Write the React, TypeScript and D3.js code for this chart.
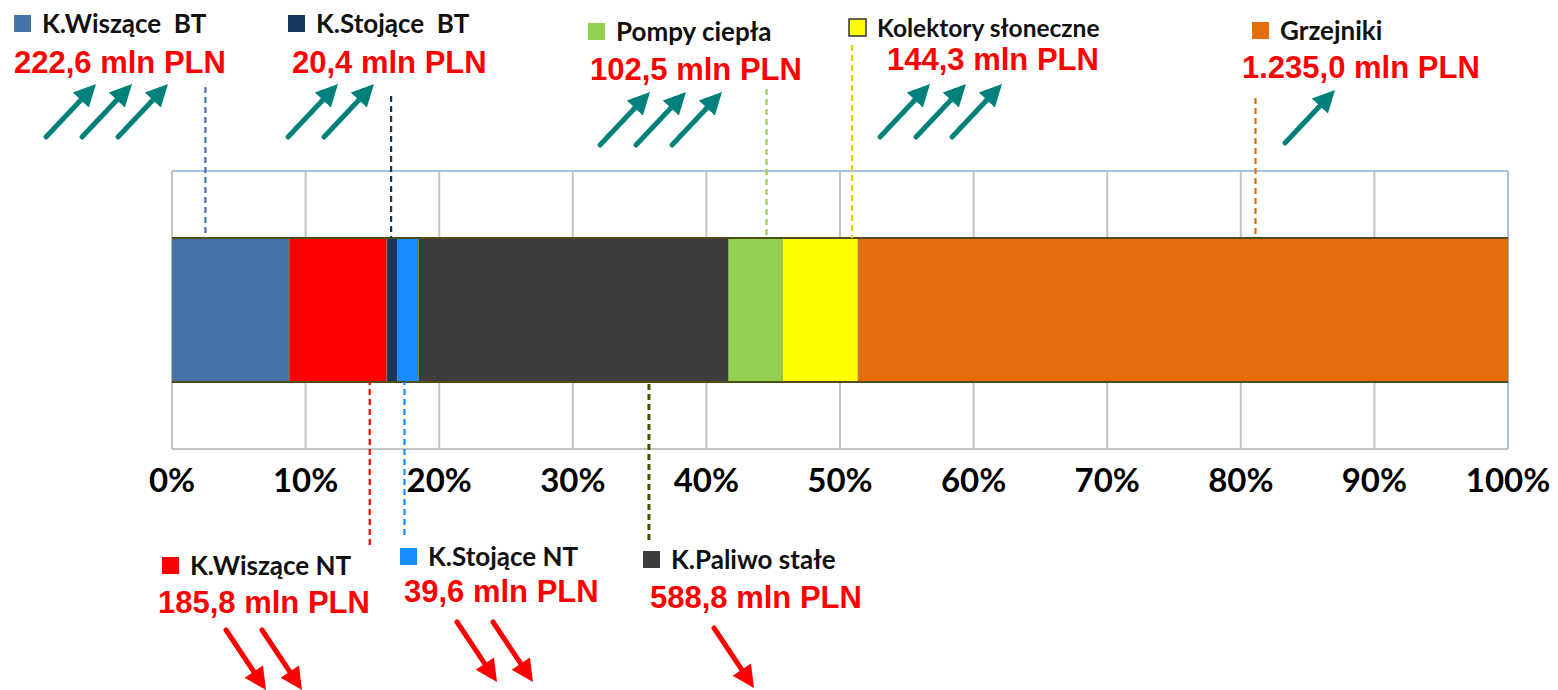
import React from "react";
import * as d3 from "d3";

// segments of the 100% bar, left to right
const categories = [
  "K.Wiszące  BT",
  "K.Wiszące NT",
  "K.Stojące  BT",
  "K.Stojące NT",
  "K.Paliwo stałe",
  "Pompy ciepła",
  "Kolektory słoneczne",
  "Grzejniki",
];
const values = [222.6, 185.8, 20.4, 39.6, 588.8, 102.5, 144.3, 1235.0];
const valueLabels = [
  "222,6 mln PLN",
  "185,8 mln PLN",
  "20,4 mln PLN",
  "39,6 mln PLN",
  "588,8 mln PLN",
  "102,5 mln PLN",
  "144,3 mln PLN",
  "1.235,0 mln PLN",
];
const trendArrows = [3, 2, 2, 2, 1, 3, 3, 1];
const trendUp = [true, false, true, false, false, true, true, true];
const tickLabels = ["0%", "10%", "20%", "30%", "40%", "50%", "60%", "70%", "80%", "90%", "100%"];

const colors = ["#4572a7", "#ff0000", "#17375e", "#168cff", "#3c3c3c", "#92d050", "#ffff00", "#e46c0a"];

const width = 1558;
const height = 690;
const plot = { left: 172, right: 1508, top: 171, bottom: 449 };
const bar = { top: 238, bottom: 382 };

// annotation placement: square (sx, sy), value text (vx, vy), first arrow tail (ax, ay),
// leader x in percent and its far end y
const notes = [
  { sx: 14, sy: 15, vx: 14, vy: 73, ax: 46, ay: 137, lead: 0.025, ly: 87, fs: 26 },
  { sx: 162, sy: 557, vx: 158, vy: 613, ax: 226, ay: 630, lead: 0.148, ly: 545, fs: 26 },
  { sx: 288, sy: 15, vx: 292, vy: 73, ax: 288, ay: 137, lead: 0.164, ly: 96, fs: 26 },
  { sx: 400, sy: 548, vx: 404, vy: 602, ax: 457, ay: 622, lead: 0.174, ly: 535, fs: 26 },
  { sx: 643, sy: 551, vx: 650, vy: 608, ax: 714, ay: 628, lead: 0.357, ly: 540, fs: 26 },
  { sx: 588, sy: 23, vx: 590, vy: 80, ax: 600, ay: 145, lead: 0.445, ly: 89, fs: 26 },
  { sx: 849, sy: 19, vx: 887, vy: 70, ax: 880, ay: 137, lead: 0.509, ly: 45, fs: 24.5 },
  { sx: 1252, sy: 22, vx: 1242, vy: 78, ax: 1285, ay: 143, lead: 0.811, ly: 98, fs: 26 },
];

const labelFont = "Lato, 'Open Sans', sans-serif";
const valueFont = "'Liberation Sans', Arial, sans-serif";

const Arrow = ({ x, y, up }: { x: number; y: number; up: boolean }) => {
  const dx = up ? 50 : 40;
  const dy = up ? -53 : 60;
  const x2 = x + dx;
  const y2 = y + dy;
  const len = Math.hypot(dx, dy);
  const ux = dx / len;
  const uy = dy / len;
  const headLen = 22;
  const headHalf = 11;
  const bx = x2 - ux * headLen;
  const by = y2 - uy * headLen;
  const color = up ? "#00807a" : "#ff0000";
  return (
    <g>
      <line x1={x} y1={y} x2={bx + ux * 2} y2={by + uy * 2} stroke={color} strokeWidth={5} strokeLinecap="round" />
      <path
        d={`M${x2},${y2}L${bx - uy * headHalf},${by + ux * headHalf}L${bx + uy * headHalf},${by - ux * headHalf}Z`}
        fill={color}
      />
    </g>
  );
};

const App = () => {
  const xScale = d3.scaleLinear().domain([0, 1]).range([plot.left, plot.right]);

  const row: Record<string, number> = {};
  categories.forEach((c, i) => (row[c] = values[i]));
  const series = d3.stack<Record<string, number>>().keys(categories).offset(d3.stackOffsetExpand)([row]);

  const ticks = d3.range(0, 11).map((d) => d / 10);

  return (
    <svg width={width} height={height} style={{ position: "absolute", left: 0, top: 0, background: "#fff" }}>
      {/* grid */}
      {ticks.map((t, i) => (
        <line
          key={i}
          x1={xScale(t)}
          x2={xScale(t)}
          y1={plot.top}
          y2={plot.bottom}
          stroke={i === 10 ? "#a9c1e0" : "#c3c3c3"}
          strokeWidth={2}
        />
      ))}
      <line x1={plot.left} x2={plot.right} y1={plot.top} y2={plot.top} stroke="#a9c1e0" strokeWidth={2} />
      <line x1={plot.left} x2={plot.right} y1={plot.bottom} y2={plot.bottom} stroke="#c3c3c3" strokeWidth={2} />

      {/* bar */}
      {series.map((s, i) => (
        <rect
          key={s.key}
          x={xScale(s[0][0])}
          width={xScale(s[0][1]) - xScale(s[0][0])}
          y={bar.top}
          height={bar.bottom - bar.top}
          fill={colors[i]}
          stroke="#8a8a60"
          strokeWidth={0.6}
        />
      ))}
      <line x1={plot.left} x2={plot.right} y1={bar.top} y2={bar.top} stroke="#4d4d14" strokeWidth={2} />
      <line x1={plot.left} x2={plot.right} y1={bar.bottom} y2={bar.bottom} stroke="#4d4d14" strokeWidth={2} />

      {/* tick labels */}
      {ticks.map((t, i) => (
        <text
          key={i}
          x={xScale(t)}
          y={492}
          textAnchor="middle"
          fontFamily={labelFont}
          fontWeight={700}
          fontSize={33}
          fill="#000"
        >
          {tickLabels[i]}
        </text>
      ))}

      {/* annotations */}
      {notes.map((n, i) => {
        const lx = xScale(n.lead);
        const up = trendUp[i];
        const edge = up ? bar.top : bar.bottom;
        const lineColor = i === 4 ? "#4d4d00" : i === 6 ? "#e0d400" : colors[i];
        return (
          <g key={i}>
            <line
              x1={lx}
              x2={lx}
              y1={n.ly}
              y2={edge}
              stroke={lineColor}
              strokeWidth={i === 4 ? 3 : 2.2}
              strokeDasharray="6 4"
            />
            <rect
              x={n.sx}
              y={n.sy}
              width={17}
              height={17}
              fill={colors[i]}
              stroke={i === 6 ? "#333" : "none"}
              strokeWidth={1.5}
            />
            <text
              x={n.sx + 28}
              y={n.sy + 18}
              fontFamily={labelFont}
              fontWeight={700}
              fontSize={n.fs}
              fill="#111"
              style={{ whiteSpace: "pre" }}
            >
              {categories[i]}
            </text>
            <text x={n.vx} y={n.vy} fontFamily={valueFont} fontWeight={700} fontSize={31} fill="#ff0000">
              {valueLabels[i]}
            </text>
            {d3.range(trendArrows[i]).map((k) => (
              <Arrow key={k} x={n.ax + k * 36} y={n.ay} up={up} />
            ))}
          </g>
        );
      })}
    </svg>
  );
};

export default App;
